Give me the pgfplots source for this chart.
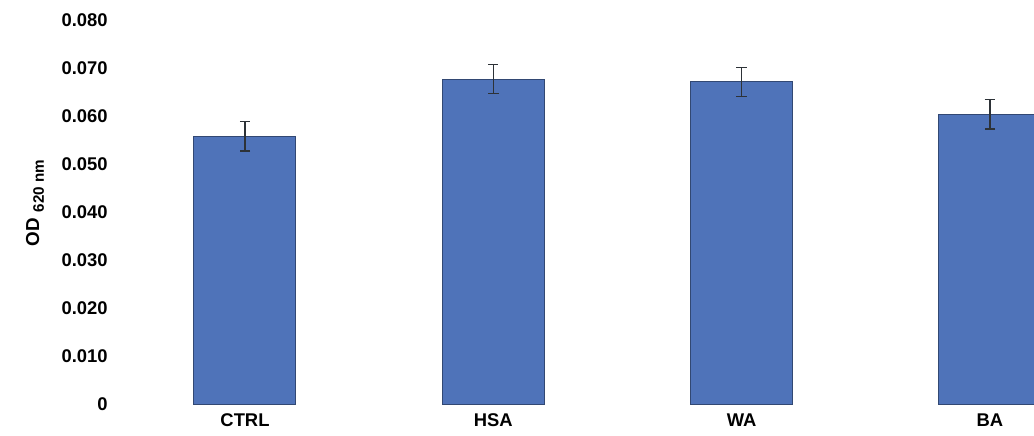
\documentclass[border=0pt]{standalone}
\usepackage{fontspec}
\setmainfont{Liberation Sans}
\usepackage{pgfplots}
\pgfplotsset{compat=1.18}
\definecolor{barblue}{RGB}{79,115,185}
\definecolor{baredge}{RGB}{50,72,115}
\definecolor{errc}{RGB}{45,50,55}
\begin{document}
\begin{tikzpicture}
\begin{axis}[
  at={(0,0)}, anchor=south west,
  scale only axis,
  width=457pt, height=192pt,
  xmin=-0.5034, xmax=3.1776,
  ymin=0, ymax=0.08,
  scaled y ticks=false,
  ytick={0,0.01,...,0.08},
  yticklabels={0,0.010,0.020,0.030,0.040,0.050,0.060,0.070,0.080},
  xtick={0,1,2,3},
  xticklabels={CTRL,HSA,WA,BA},
  axis line style={draw=none},
  major tick length=0pt,
  tick style={draw=none},
  /pgf/number format/assume math mode=true,
  yticklabel style={font=\fontsize{9.2}{10}\selectfont\bfseries, anchor=east, inner sep=0pt, xshift=-6pt},
  xticklabel style={font=\fontsize{9.2}{10}\selectfont\bfseries, anchor=north, inner sep=0pt, yshift=-4.5pt},
  ylabel={OD\,\raisebox{-0.25em}{\fontsize{7.6}{8}\selectfont\,620 nm}},
  every axis y label/.style={at={(axis description cs:-0.093,0.523)}, rotate=90, anchor=center, font=\fontsize{9.4}{10}\selectfont\bfseries},
  clip=true,
]
\addplot[ybar, bar width=51pt, fill=barblue, draw=baredge, line width=0.5pt,
  error bars/.cd, y dir=both, y explicit,
  error bar style={color=errc, line width=0.6pt},
  error mark options={rotate=90, mark size=2.6pt, color=errc, line width=0.6pt}]
  coordinates {
  (0,0.0558) +- (0,0.0031)
  (1,0.0677) +- (0,0.0030)
  (2,0.0671) +- (0,0.0030)
  (3,0.0604) +- (0,0.0031)
  };
\end{axis}
\pgfresetboundingbox
\path[use as bounding box] (-60pt,-15.5pt) rectangle (457pt,202pt);
\end{tikzpicture}
\end{document}
